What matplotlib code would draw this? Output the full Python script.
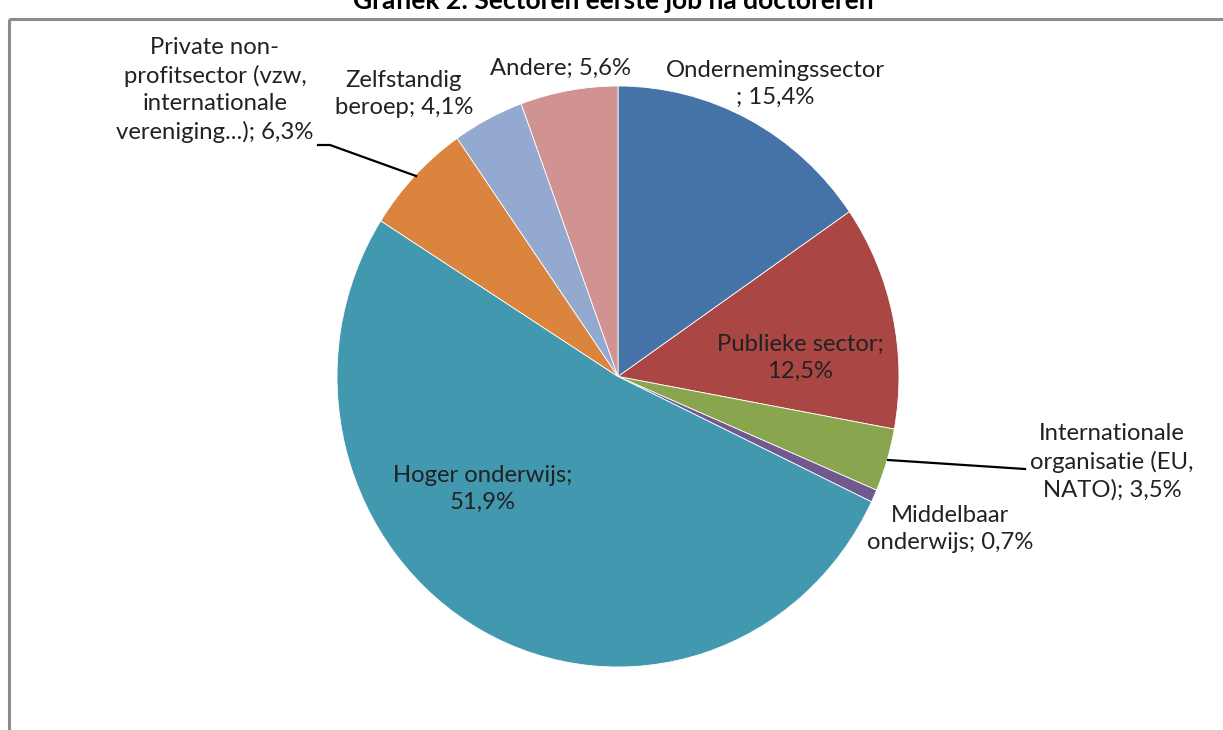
import matplotlib
matplotlib.use("Agg")
import matplotlib.pyplot as plt

W, H = 1223, 730

labels = [
    "Ondernemingssector\n; 15,4%",
    "Publieke sector;\n12,5%",
    "Internationale\norganisatie (EU,\nNATO); 3,5%",
    "Middelbaar\nonderwijs; 0,7%",
    "Hoger onderwijs;\n51,9%",
    "Private non-\nprofitsector (vzw,\ninternationale\nvereniging...); 6,3%",
    "Zelfstandig\nberoep; 4,1%",
    "Andere; 5,6%",
]
shares = [15.4, 12.5, 3.5, 0.7, 51.9, 6.3, 4.1, 5.6]
colors = ["#4572A7", "#AA4643", "#89A54E", "#71588F",
          "#4198AF", "#DB843D", "#93A9CF", "#D19392"]

# label centres in pixels (x, y from top)
label_pos = [(775, 84), (800, 358), (1112, 462), (950, 529),
             (483, 489), (215, 90), (404, 94), (560, 68)]

plt.rcParams["font.family"] = ["Lato", "DejaVu Sans"]

fig = plt.figure(figsize=(W / 100, H / 100), dpi=100)

# pie axes: slightly taller than wide, like the original
cx0, cx1, cy0, cy1 = 337, 899, 86, 667
pie_ax = fig.add_axes([cx0 / W, 1 - cy1 / H, (cx1 - cx0) / W, (cy1 - cy0) / H])
pie_ax.pie(shares, colors=colors, startangle=90, counterclock=False,
           wedgeprops=dict(linewidth=0.6, edgecolor="white"))
pie_ax.set_aspect("auto")
pie_ax.set_xlim(-1, 1)
pie_ax.set_ylim(-1, 1)
pie_ax.axis("off")

# overlay in pixel coordinates for frame, title, labels
ax = fig.add_axes([0, 0, 1, 1], facecolor="none")
ax.set_xlim(0, W)
ax.set_ylim(H, 0)
ax.axis("off")

ax.plot([8.5, W + 5], [18.5, 18.5], color="#8c8c8c", lw=2.2, solid_capstyle="butt")
ax.plot([8.5, 8.5], [18.5, H + 5], color="#8c8c8c", lw=2.2, solid_capstyle="butt")

# title is cut off at the top edge in the original
ax.text(613, 1, "Grafiek 2: Sectoren eerste job na doctoreren", ha="center",
        va="center", fontsize=19, fontweight="bold", color="black")

for lab, (x, y) in zip(labels, label_pos):
    ax.text(x, y, lab, ha="center", va="center", fontsize=17.2,
            color="#222222", linespacing=1.36)

# leader lines
ax.plot([888, 1025], [460, 469], color="black", lw=1.6)
ax.plot([318, 330, 416], [145, 145, 176], color="black", lw=1.6)

fig.savefig("out.png", dpi=100)
